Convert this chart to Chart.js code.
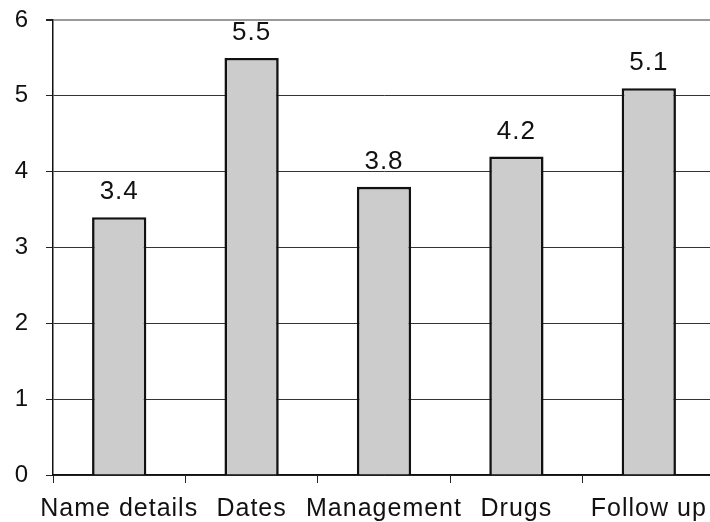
<!DOCTYPE html>
<html>
<head>
<meta charset="utf-8">
<script src="https://cdn.jsdelivr.net/npm/chart.js@4.4.1/dist/chart.umd.min.js"></script>
<style>
  html, body { margin: 0; padding: 0; background: #fff; overflow: hidden; }
  #wrap { width: 715px; height: 522px; }
</style>
</head>
<body>
<div id="wrap"><canvas id="myChart"></canvas></div>
<script>
// Categories and average scores
const categories = ['Name details', 'Dates', 'Management', 'Drugs', 'Follow up'];
const scores = [3.4, 5.5, 3.8, 4.2, 5.1];
const yTicks = [0, 1, 2, 3, 4, 5, 6];

const FONT = '"Liberation Sans", Arial, sans-serif';

// Slightly wider lettering for all chart text
const spacing = {
    id: 'spacing',
    beforeUpdate(chart) { chart.ctx.letterSpacing = '1px'; },
    beforeDraw(chart) { chart.ctx.letterSpacing = '1px'; }
};

// Write each bar's value above it
const valueLabels = {
    id: 'valueLabels',
    afterDatasetsDraw(chart) {
        const ctx = chart.ctx;
        const meta = chart.getDatasetMeta(0);
        ctx.save();
        ctx.font = '26px ' + FONT;
        ctx.fillStyle = '#111';
        ctx.textAlign = 'center';
        ctx.textBaseline = 'alphabetic';
        meta.data.forEach((bar, i) => {
            ctx.fillText(scores[i].toFixed(1), bar.x, bar.y - 18);
        });
        ctx.restore();
    }
};

const ctx = document.getElementById('myChart').getContext('2d');

const chart = new Chart(ctx, {
    type: 'bar',
    data: {
        labels: categories,
        datasets: [{
            data: scores,
            backgroundColor: '#cccccc',
            borderColor: '#111111',
            borderWidth: 2.6,
            barPercentage: 0.41,
            categoryPercentage: 1
        }]
    },
    options: {
        responsive: true,
        maintainAspectRatio: false,
        animation: false,
        layout: { padding: { top: 20, right: 0, left: 0, bottom: 0 } },
        plugins: {
            legend: { display: false },
            tooltip: { enabled: false }
        },
        scales: {
            x: {
                offset: true,
                grid: {
                    offset: true,
                    drawOnChartArea: false,
                    tickLength: 8,
                    tickColor: '#222',
                    tickWidth: 1
                },
                border: { color: '#111', width: 1.5 },
                ticks: {
                    color: '#111',
                    font: { family: FONT, size: 25 },
                    padding: 11,
                    maxRotation: 0,
                    autoSkip: false
                },
                afterFit(scale) {
                    scale.height = 47;
                    scale.paddingLeft = 0;
                    scale.paddingRight = 0;
                }
            },
            y: {
                min: 0,
                max: 6,
                afterBuildTicks(scale) {
                    scale.ticks = yTicks.map(v => ({ value: v }));
                },
                grid: {
                    color: c => (c.tick && c.tick.value === 6) ? '#9a9a9a' : '#333',
                    lineWidth: c => (c.tick && c.tick.value === 6) ? 2 : 1,
                    tickLength: 7,
                    tickColor: '#222'
                },
                border: { color: '#111', width: 1.5 },
                ticks: {
                    color: '#111',
                    font: { family: FONT, size: 24 },
                    padding: 17
                },
                afterFit(scale) {
                    scale.width = 53;
                    scale.paddingTop = 0;
                    scale.paddingBottom = 0;
                }
            }
        }
    },
    plugins: [spacing, valueLabels]
});
</script>
</body>
</html>
